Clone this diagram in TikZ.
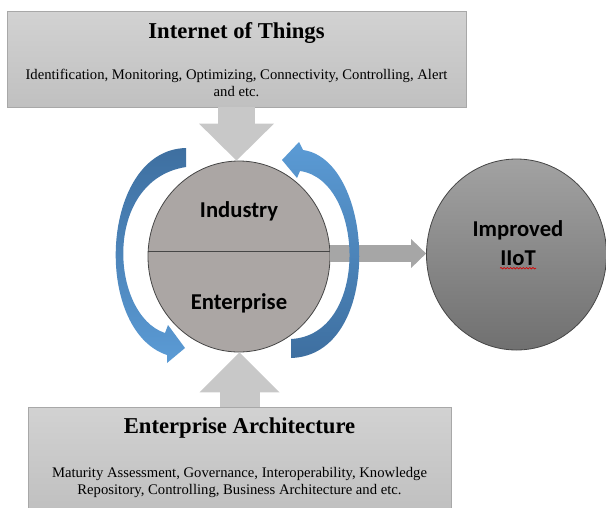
\documentclass[tikz,border=0pt]{standalone}
\usepackage{fontspec}
\setmainfont{Liberation Serif}
\newfontfamily\calibri{Carlito}
\usepackage{xcolor}
\usetikzlibrary{arrows.meta,calc,shapes.geometric,decorations.pathmorphing}

\definecolor{paneltop}{RGB}{210,210,210}
\definecolor{panelbot}{RGB}{192,192,192}
\definecolor{panelline}{RGB}{168,168,168}
\definecolor{feedgray}{RGB}{200,200,200}
\definecolor{pushgray}{RGB}{166,166,166}
\definecolor{hubfill}{RGB}{171,166,164}
\definecolor{hubline}{RGB}{70,70,70}
\definecolor{goaltop}{RGB}{162,162,162}
\definecolor{goalbot}{RGB}{112,112,112}
\definecolor{loopdark}{RGB}{62,111,160}
\definecolor{looplight}{RGB}{91,155,213}

\begin{document}
\begin{tikzpicture}[
  x=0.75pt,y=-0.75pt,
  every node/.style={align=center,inner sep=0pt},
  panel/.style={rectangle,draw=panelline,line width=0.7pt,top color=paneltop,bottom color=panelbot},
  heading/.style={font=\fontsize{17}{20}\selectfont\bfseries},
  detail/.style={font=\fontsize{11}{13}\selectfont},
  hub/.style={ellipse,draw=hubline,line width=0.6pt,minimum width=136.5pt,minimum height=143.25pt},
  hubtext/.style={font=\calibri\bfseries\fontsize{17}{20}\selectfont},
  feed/.style={draw=feedgray},
  push/.style={draw=pushgray,line width=12.75pt,-{Triangle[length=11.25pt,width=21.75pt,line width=0pt]}},
  loopband/.style={draw=none},
  squiggle/.style={draw=red!85!black,line width=0.5pt,decorate,decoration={snake,amplitude=0.55pt,segment length=2.4pt}}
]
  \useasboundingbox (0,0) rectangle (606,507);

  % input panels
  \node[panel,minimum width=344.25pt,minimum height=72pt] (iot) at (236.5,59) {};
  \node[heading] (iottitle) at (236.5,33) {Internet of Things};
  \node[detail] (iotlist) at (236.5,83)
    {Identification, Monitoring, Optimizing, Connectivity, Controlling, Alert\\and etc.};

  \node[panel,minimum width=317.25pt,minimum height=76.5pt] (ea) at (239.5,458) {};
  \node[heading] (eatitle) at (239.5,428) {Enterprise Architecture};
  \node[detail] (ealist) at (239.5,482.5)
    {Maturity Assessment, Governance, Interoperability, Knowledge\\Repository, Controlling, Business Architecture and etc.};

  % hub and result
  \node[hub,fill=hubfill] (core) at (239,256.5) {};
  \draw[hubline,line width=0.6pt] ($(core.west)+(0.2,-5.5)$) -- ($(core.east)+(-0.2,-5.5)$);
  \node[hubtext] (ind) at (239,211) {Industry};
  \node[hubtext] (ent) at (239,303) {Enterprise};

  \node[hub,minimum width=135pt,top color=goaltop,bottom color=goalbot] (goal) at (516.5,254.5) {};
  \node[hubtext] (impr) at (518,230) {Improved};
  \node[hubtext] (iiot) at (518,258) {IIoT};
  \draw[squiggle] ([yshift=-2.2pt]iiot.base west) -- ([yshift=-2.2pt]iiot.base east);

  % block arrows
  \draw[feed,line width=27.75pt,-{Triangle[length=27.75pt,width=56.25pt,line width=0pt]}]
    (iot.south) -- (iot.south |- core.north);
  \draw[feed,line width=30pt,-{Triangle[length=30pt,width=60pt,line width=0pt]}]
    (ea.north) -- (ea.north |- core.south);
  \draw[push] ($(core.east |- goal.west)+(-0.5,-1)$) -- ($(goal.west)+(0,-1)$);

  % circulating arrows
  \path[loopband,top color=loopdark,bottom color=looplight]
    (186,148) .. controls (100,150) and (92,330) .. (167,355)
    -- (167,363) -- (185,348) -- (168,325) -- (165,333)
    .. controls (110,315) and (102,180) .. (186,167) -- cycle;
  \path[loopband,top color=looplight,bottom color=loopdark]
    (291,358) .. controls (385,355) and (375,160) .. (303,150)
    -- (299,142) -- (282,160) -- (297,178) -- (300,171)
    .. controls (365,180) and (370,335) .. (291,339) -- cycle;
\end{tikzpicture}
\end{document}
